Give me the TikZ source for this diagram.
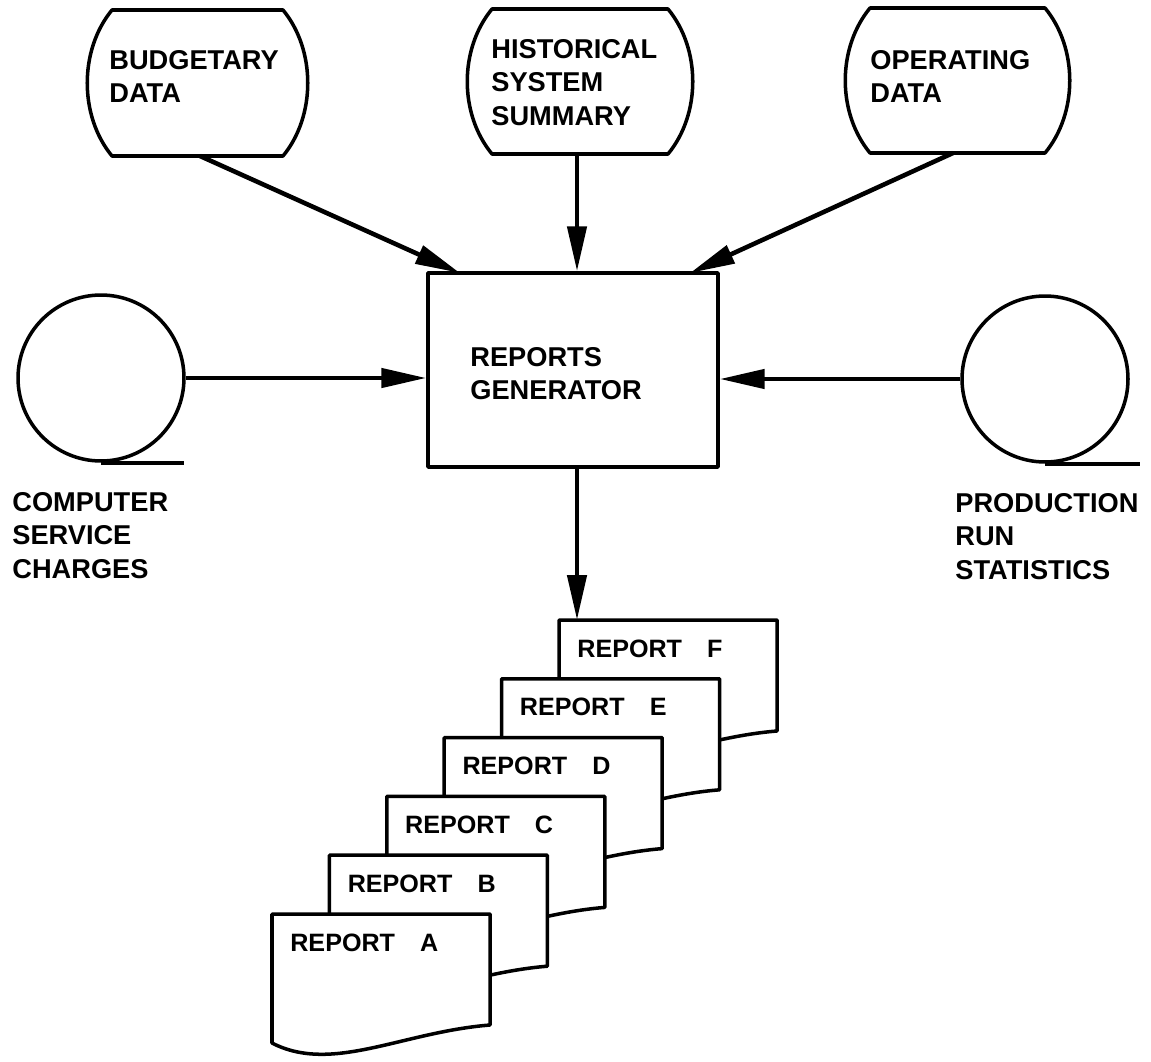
\documentclass[tikz,border=0pt]{standalone}
\usepackage{fontspec}
\setmainfont{Liberation Sans}
\usetikzlibrary{arrows.meta}
\newcommand\storeshape[5]{%
  \draw[shapeline] (#1,#3) -- (#2,#3) .. controls (#2+33,#3+40) and (#2+33,#4-40) .. (#2,#4)
     -- (#1,#4) .. controls (#1-33,#4-40) and (#1-33,#3+40) .. (#1,#3) -- cycle;
  \coordinate (#5) at ({(#1+#2)/2},#4);}
\tikzset{
  shapeline/.style={line width=2pt, line join=round},
  arr/.style={line width=2.6pt, -{Triangle[length=0.9cm,width=0.38cm]}},
  lbl/.style={anchor=north west, inner sep=0pt, align=left, font=\bfseries\fontsize{15.5}{19}\selectfont},
  rlbl/.style={anchor=base west, inner sep=0pt, font=\bfseries\fontsize{14.3}{17}\selectfont},
}
\begin{document}
\begin{tikzpicture}[x=0.02cm,y=-0.02cm]
\useasboundingbox (0,0) rectangle (1151,1061);

% storage shapes on top
\storeshape{112}{283}{10}{156}{budc}
\storeshape{492}{668}{9}{154}{hisc}
\storeshape{870}{1045}{8}{153}{opc}
\node[lbl] (budt) at (109,50) {BUDGETARY\\DATA};
\node[lbl] (hist) at (491,39) {HISTORICAL\\SYSTEM\\SUMMARY};
\node[lbl] (opt) at (870,50) {OPERATING\\DATA};

% generator
\node[draw, shapeline, minimum width=5.8cm, minimum height=3.88cm, inner sep=0pt] (gen) at (573,370) {};
\node[lbl] (gent) at (470,347) {REPORTS\\GENERATOR};

% tapes
\node[draw, shapeline, circle, minimum size=3.32cm, inner sep=0pt] (csc) at (101,378) {};
\draw[shapeline] (csc.south) -- ++(83,0);
\node[draw, shapeline, circle, minimum size=3.32cm, inner sep=0pt] (prs) at (1045,379) {};
\draw[shapeline] (prs.south) -- ++(95,0);
\node[lbl] (csct) at (12,492) {COMPUTER\\SERVICE\\CHARGES};
\node[lbl] (prst) at (955,493) {PRODUCTION\\RUN\\STATISTICS};

% arrows into generator
\coordinate (budb) at (200,156);
\coordinate (budtip) at (460,273);
\coordinate (hisb) at (577,154);
\coordinate (opb) at (953,153);
\coordinate (optip) at (690,273);
\draw[arr] (budb) -- (budtip);
\draw[arr] (hisb) -- (hisb |- gen.north);
\draw[arr] (opb) -- (optip);
\draw[arr] (csc.east) -- (csc.east -| gen.west);
\draw[arr] (prs.west) -- (prs.west -| gen.east);

% report stack
\foreach \i/\l in {5/F,4/E,3/D,2/C,1/B,0/A} {
  \pgfmathsetmacro\xl{272+57.4*\i}
  \pgfmathsetmacro\yt{914-58.8*\i}
  \draw[shapeline, fill=white] (\xl,\yt) -- (\xl+218,\yt) -- (\xl+218,\yt+111)
     .. controls (\xl+130,\yt+118) and (\xl+60,\yt+160) .. (\xl,\yt+129) -- cycle;
  \node[rlbl] (r\l) at (\xl+18,\yt+37) {REPORT\hspace{1em}\l};
}
\coordinate (rftop) at (577,620);
\draw[arr] (hisb |- gen.south) -- (rftop);
\end{tikzpicture}
\end{document}
